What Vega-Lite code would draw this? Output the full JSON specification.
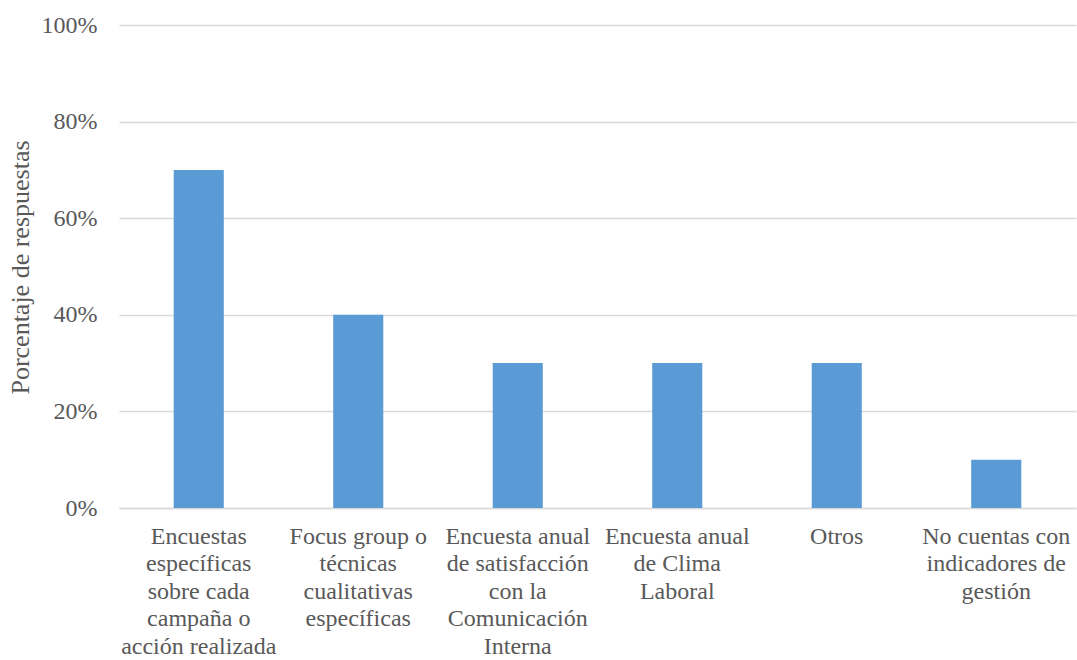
{
  "$schema": "https://vega.github.io/schema/vega-lite/v6.json",
  "autosize": {"type": "none"},
  "width": 957,
  "height": 483,
  "padding": {"left": 119, "top": 25, "right": 1, "bottom": 152},
  "background": "white",
  "data": {
    "values": [
      {"categoria": "Encuestas|específicas|sobre cada|campaña o|acción realizada", "porcentaje": 0.7},
      {"categoria": "Focus group o|técnicas|cualitativas|específicas", "porcentaje": 0.4},
      {"categoria": "Encuesta anual|de satisfacción|con la|Comunicación|Interna", "porcentaje": 0.3},
      {"categoria": "Encuesta anual|de Clima|Laboral", "porcentaje": 0.3},
      {"categoria": "Otros", "porcentaje": 0.3},
      {"categoria": "No cuentas con|indicadores de|gestión", "porcentaje": 0.1}
    ]
  },
  "config": {
    "view": {"stroke": null},
    "font": "Liberation Serif",
    "axis": {
      "labelFont": "Liberation Serif",
      "titleFont": "Liberation Serif",
      "labelColor": "#595959",
      "titleColor": "#595959",
      "labelFontSize": 24,
      "titleFontSize": 26,
      "titleFontWeight": "normal"
    }
  },
  "mark": {"type": "bar", "color": "#5B9BD5"},
  "encoding": {
    "x": {
      "field": "categoria",
      "type": "nominal",
      "sort": null,
      "scale": {"paddingInner": 0.686, "paddingOuter": 0.343},
      "axis": {
        "title": null,
        "labelAngle": 0,
        "labelAlign": "center",
        "labelBaseline": "top",
        "labelPadding": 16,
        "labelLineHeight": 27.5,
        "labelExpr": "split(datum.value, '|')",
        "ticks": false,
        "domainColor": "#D9D9D9",
        "domainWidth": 1.5,
        "labelLimit": 300
      }
    },
    "y": {
      "field": "porcentaje",
      "type": "quantitative",
      "scale": {"domain": [0, 1]},
      "axis": {
        "title": "Porcentaje de respuestas",
        "format": ".0%",
        "values": [0, 0.2, 0.4, 0.6, 0.8, 1],
        "ticks": false,
        "domain": false,
        "gridColor": "#D9D9D9",
        "gridWidth": 1.5,
        "labelPadding": 22,
        "titleAngle": -90,
        "titleX": -91,
        "titleY": 242,
        "titleAlign": "center",
        "titleBaseline": "alphabetic"
      }
    }
  }
}
